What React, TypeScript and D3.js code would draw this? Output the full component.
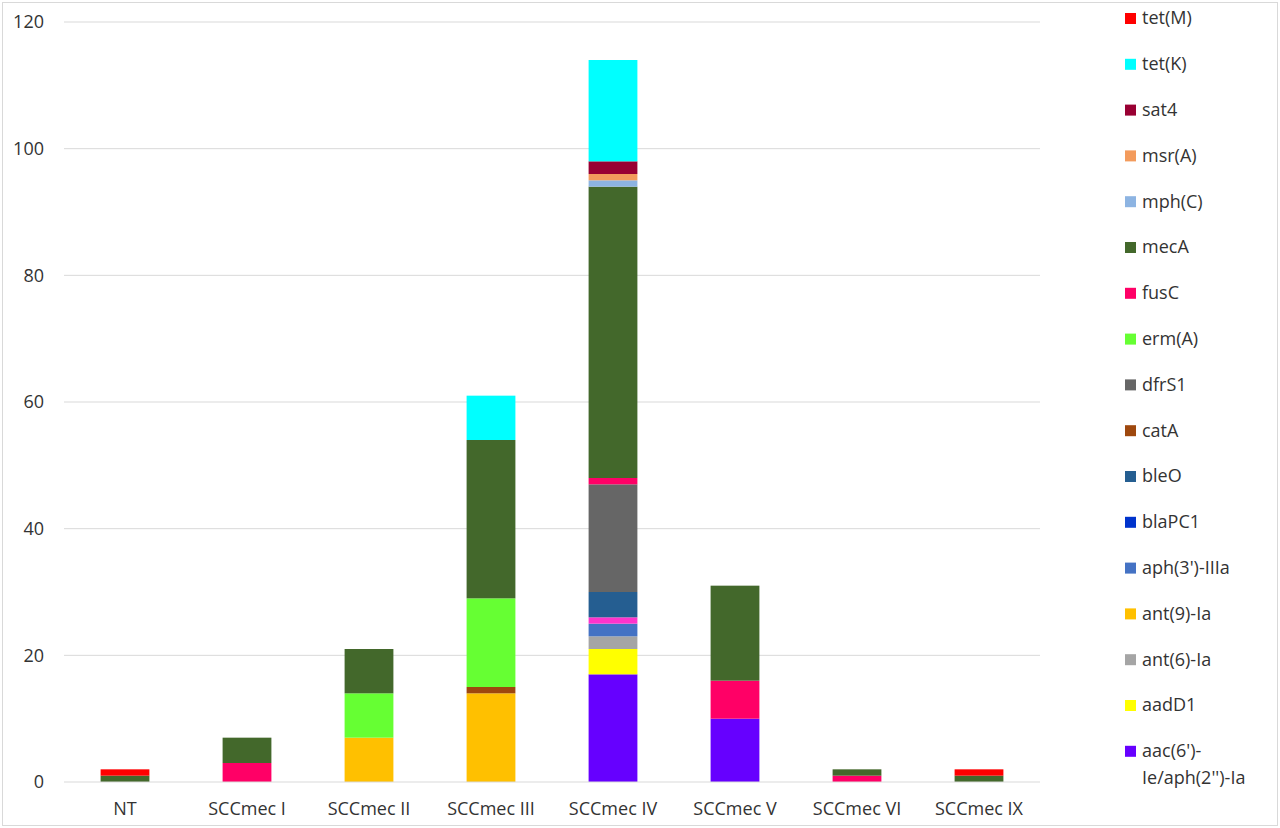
import React, { useRef, useEffect } from 'react';
import * as d3 from 'd3';

const categories = ['NT', 'SCCmec I', 'SCCmec II', 'SCCmec III', 'SCCmec IV', 'SCCmec V', 'SCCmec VI', 'SCCmec IX'];

// stack order, bottom to top
const genes = [
    "aac(6')-Ie/aph(2'')-Ia", 'aadD1', 'ant(6)-Ia', 'ant(9)-Ia', "aph(3')-IIIa", 'blaPC1', 'bleO', 'catA',
    'dfrS1', 'erm(A)', 'fusC', 'mecA', 'mph(C)', 'msr(A)', 'sat4', 'tet(K)', 'tet(M)',
];

// values per gene, one per category
const aac = [0, 0, 0, 0, 17, 10, 0, 0];
const aadD1 = [0, 0, 0, 0, 4, 0, 0, 0];
const ant6 = [0, 0, 0, 0, 2, 0, 0, 0];
const ant9 = [0, 0, 7, 14, 0, 0, 0, 0];
const aph3 = [0, 0, 0, 0, 2, 0, 0, 0];
const blaPC1 = [0, 0, 0, 0, 1, 0, 0, 0];
const bleO = [0, 0, 0, 0, 4, 0, 0, 0];
const catA = [0, 0, 0, 1, 0, 0, 0, 0];
const dfrS1 = [0, 0, 0, 0, 17, 0, 0, 0];
const ermA = [0, 0, 7, 14, 0, 0, 0, 0];
const fusC = [0, 3, 0, 0, 1, 6, 1, 0];
const mecA = [1, 4, 7, 25, 46, 15, 1, 1];
const mphC = [0, 0, 0, 0, 1, 0, 0, 0];
const msrA = [0, 0, 0, 0, 1, 0, 0, 0];
const sat4 = [0, 0, 0, 0, 2, 0, 0, 0];
const tetK = [0, 0, 0, 7, 16, 0, 0, 0];
const tetM = [1, 0, 0, 0, 0, 0, 0, 1];

const seriesValues = [aac, aadD1, ant6, ant9, aph3, blaPC1, bleO, catA, dfrS1, ermA, fusC, mecA, mphC, msrA, sat4, tetK, tetM];

const legendColors = [
    '#6600ff', '#ffff00', '#a5a5a5', '#ffc000', '#4472c4', '#0033cc', '#255e91', '#9e480e',
    '#666666', '#66ff33', '#ff0066', '#43682b', '#8db4e2', '#f39b5c', '#990033', '#00ffff', '#ff0000',
];
// the blaPC1 segment is drawn magenta in the chart
const barColors = legendColors.map((c, i) => (genes[i] === 'blaPC1' ? '#ff33cc' : c));

const yTicks = [0, 20, 40, 60, 80, 100, 120];

const App: React.FC = () => {
    const ref = useRef<SVGSVGElement | null>(null);

    useEffect(() => {
        document.body.style.margin = '0';
        if (!ref.current) return;
        const width = 1280;
        const height = 828;
        const font = "'Open Sans', 'Liberation Sans', sans-serif";
        const textColor = '#333';

        const svg = d3.select(ref.current);
        svg.selectAll('*').remove();
        svg.attr('width', width).attr('height', height);

        svg.append('rect')
            .attr('x', 2.5).attr('y', 2.5)
            .attr('width', width - 5).attr('height', height - 5)
            .attr('fill', '#fff').attr('stroke', '#d9d9d9');

        const x = d3.scaleBand<string>()
            .domain(categories)
            .range([64, 1040])
            .paddingInner(0.6)
            .paddingOuter(0.3);

        const y = d3.scaleLinear().domain([0, 120]).range([782, 22]);

        // gridlines
        svg.append('g')
            .selectAll('line')
            .data(yTicks.slice(1))
            .join('line')
            .attr('x1', 64).attr('x2', 1040)
            .attr('y1', (d) => y(d)).attr('y2', (d) => y(d))
            .attr('stroke', '#d9d9d9').attr('stroke-width', 1);

        // y labels
        svg.append('g')
            .selectAll('text')
            .data(yTicks)
            .join('text')
            .attr('x', 44)
            .attr('y', (d) => y(d))
            .attr('dy', '0.35em')
            .attr('text-anchor', 'end')
            .attr('font-family', font)
            .attr('font-size', 18)
            .attr('fill', textColor)
            .text((d) => d);

        // stacked bars
        const table = categories.map((c, ci) => {
            const row: Record<string, number | string> = { category: c };
            genes.forEach((g, gi) => { row[g] = seriesValues[gi][ci]; });
            return row;
        });
        const stacked = d3.stack<Record<string, number | string>>()
            .keys(genes)
            .value((d, key) => d[key] as number)(table);

        svg.append('g')
            .selectAll('g')
            .data(stacked)
            .join('g')
            .attr('fill', (_, i) => barColors[i])
            .selectAll('rect')
            .data((s) => s.filter((d) => d[1] - d[0] > 0))
            .join('rect')
            .attr('x', (d) => x(d.data.category as string) as number)
            .attr('width', x.bandwidth())
            .attr('y', (d) => y(d[1]))
            .attr('height', (d) => y(d[0]) - y(d[1]));

        // x axis line
        svg.append('line')
            .attr('x1', 64).attr('x2', 1040)
            .attr('y1', y(0)).attr('y2', y(0))
            .attr('stroke', '#d9d9d9');

        svg.append('g')
            .selectAll('text')
            .data(categories)
            .join('text')
            .attr('x', (d) => (x(d) as number) + x.bandwidth() / 2)
            .attr('y', 815)
            .attr('text-anchor', 'middle')
            .attr('font-family', font)
            .attr('font-size', 18)
            .attr('fill', textColor)
            .text((d) => d);

        // legend, top item is last series
        const legendItems = genes.map((g, i) => ({ g, c: legendColors[i] })).reverse();
        const lg = svg.append('g');
        const row = lg.selectAll('g')
            .data(legendItems)
            .join('g')
            .attr('transform', (_, i) => `translate(1125,${18 + i * 45.8})`);
        row.append('rect')
            .attr('x', 0).attr('y', -5)
            .attr('width', 11).attr('height', 11)
            .attr('fill', (d) => d.c);
        row.append('text')
            .attr('x', 17)
            .attr('y', 0)
            .attr('dy', '0.35em')
            .attr('font-family', font)
            .attr('font-size', 18)
            .attr('fill', textColor)
            .each(function (d) {
                const t = d3.select(this);
                if (d.g.startsWith('aac')) {
                    t.append('tspan').attr('x', 17).text("aac(6')-");
                    t.append('tspan').attr('x', 17).attr('dy', 27).text("Ie/aph(2'')-Ia");
                } else {
                    t.text(d.g);
                }
            });
    }, []);

    return (
        <div>
            <svg ref={ref} style={{ display: 'block' }} />
        </div>
    );
};

export default App;
